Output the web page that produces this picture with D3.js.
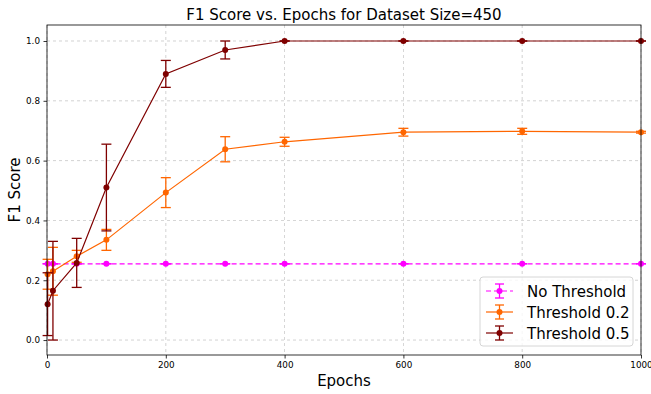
<!DOCTYPE html>
<html>
<head>
<meta charset="utf-8">
<script src="https://cdn.jsdelivr.net/npm/d3@7"></script>
<style>
  body { margin: 0; background: #fff; }
  text { font-family: "DejaVu Sans", sans-serif; }
</style>
</head>
<body>
<script>
// data
var epochs = [1, 10, 50, 100, 200, 300, 400, 600, 800, 1000];
var noThr = [0.255, 0.255, 0.255, 0.255, 0.255, 0.255, 0.255, 0.255, 0.255, 0.255];
var noThrErr = [0, 0, 0, 0, 0, 0, 0, 0, 0, 0];
var thr02 = [0.22, 0.23, 0.28, 0.335, 0.493, 0.638, 0.663, 0.695, 0.698, 0.695];
var thr02Err = [0.05, 0.08, 0.02, 0.035, 0.05, 0.042, 0.015, 0.013, 0.01, 0.003];
var thr05 = [0.12, 0.165, 0.258, 0.51, 0.89, 0.97, 1.0, 1.0, 1.0, 1.0];
var thr05Err = [0.105, 0.165, 0.082, 0.145, 0.045, 0.03, 0, 0, 0, 0];
var xTicks = [0, 200, 400, 600, 800, 1000];
var yTicks = [0, 0.2, 0.4, 0.6, 0.8, 1.0];

var series = [
  { name: 'No Threshold', vals: noThr, err: noThrErr, color: '#ff00ff', dash: '5,3' },
  { name: 'Threshold 0.2', vals: thr02, err: thr02Err, color: '#ff6600', dash: null },
  { name: 'Threshold 0.5', vals: thr05, err: thr05Err, color: '#7f0000', dash: null }
];

(function () {
  var W = 651, H = 394;
  var mL = 47, mR = 641, mT = 25, mB = 355;

  var svg = d3.select('body').append('svg').attr('width', W).attr('height', H);

  var x = d3.scaleLinear().domain([0, 1000]).range([mL, mR]);
  var y = d3.scaleLinear().domain([-0.05, 1.0535]).range([mB, mT]);

  // grid
  svg.append('g').selectAll('line').data(xTicks).enter().append('line')
    .attr('x1', d => x(d)).attr('x2', d => x(d)).attr('y1', mT).attr('y2', mB)
    .attr('stroke', '#b0b0b0').attr('stroke-width', 0.8).attr('stroke-dasharray', '3,3').attr('opacity', 0.7);
  svg.append('g').selectAll('line').data(yTicks).enter().append('line')
    .attr('y1', d => y(d)).attr('y2', d => y(d)).attr('x1', mL).attr('x2', mR)
    .attr('stroke', '#b0b0b0').attr('stroke-width', 0.8).attr('stroke-dasharray', '3,3').attr('opacity', 0.7);

  // axes
  var xAxis = svg.append('g').attr('transform', 'translate(0,' + mB + ')')
    .call(d3.axisBottom(x).tickValues(xTicks).tickFormat(d3.format('d')).tickSize(3.5).tickPadding(3.5));
  var yAxis = svg.append('g').attr('transform', 'translate(' + mL + ',0)')
    .call(d3.axisLeft(y).tickValues(yTicks).tickFormat(d3.format('.1f')).tickSize(3.5).tickPadding(3.5));
  [xAxis, yAxis].forEach(function (a) {
    a.select('.domain').remove();
    a.selectAll('text').style('font-family', '"DejaVu Sans", sans-serif').style('font-size', '8.8px').attr('fill', '#000');
    a.selectAll('line').attr('stroke', '#000').attr('stroke-width', 0.8);
  });

  // series
  var line = d3.line().x(d => x(d[0])).y(d => y(d[1]));
  series.forEach(function (s) {
    var g = svg.append('g');
    var pts = epochs.map((e, i) => [e, s.vals[i], s.err[i]]);
    g.selectAll('.eb').data(pts).enter().append('line')
      .attr('x1', d => x(d[0])).attr('x2', d => x(d[0]))
      .attr('y1', d => y(d[1] - d[2])).attr('y2', d => y(d[1] + d[2]))
      .attr('stroke', s.color).attr('stroke-width', 1.3);
    [-1, 1].forEach(function (sg) {
      g.selectAll('.cap' + sg).data(pts).enter().append('line')
        .attr('x1', d => x(d[0]) - 5).attr('x2', d => x(d[0]) + 5)
        .attr('y1', d => y(d[1] + sg * d[2])).attr('y2', d => y(d[1] + sg * d[2]))
        .attr('stroke', s.color).attr('stroke-width', 1.3);
    });
    g.append('path').datum(pts).attr('d', line).attr('fill', 'none')
      .attr('stroke', s.color).attr('stroke-width', 1.2)
      .attr('stroke-dasharray', s.dash);
    g.selectAll('circle').data(pts).enter().append('circle')
      .attr('cx', d => x(d[0])).attr('cy', d => y(d[1])).attr('r', 3).attr('fill', s.color);
  });

  // frame
  svg.append('rect').attr('x', mL).attr('y', mT).attr('width', mR - mL).attr('height', mB - mT)
    .attr('fill', 'none').attr('stroke', '#000').attr('stroke-width', 0.8);

  // title and labels
  svg.append('text').attr('x', (mL + mR) / 2).attr('y', 20).attr('text-anchor', 'middle')
    .style('font-size', '15px').text('F1 Score vs. Epochs for Dataset Size=450');
  svg.append('text').attr('x', (mL + mR) / 2).attr('y', 386).attr('text-anchor', 'middle')
    .style('font-size', '15px').text('Epochs');
  svg.append('text').attr('transform', 'translate(20,' + ((mT + mB) / 2) + ') rotate(-90)')
    .attr('text-anchor', 'middle').style('font-size', '15px').text('F1 Score');

  // legend
  var lg = svg.append('g').attr('transform', 'translate(480,277)');
  lg.append('rect').attr('width', 153).attr('height', 69).attr('rx', 3)
    .attr('fill', '#fff').attr('fill-opacity', 0.8).attr('stroke', '#ccc').attr('stroke-width', 0.8);
  series.forEach(function (s, i) {
    var cy = 14 + i * 21;
    lg.append('line').attr('x1', 6).attr('x2', 33).attr('y1', cy).attr('y2', cy)
      .attr('stroke', s.color).attr('stroke-width', 1.2).attr('stroke-dasharray', s.dash);
    lg.append('line').attr('x1', 19.5).attr('x2', 19.5).attr('y1', cy - 7).attr('y2', cy + 7)
      .attr('stroke', s.color).attr('stroke-width', 1.3);
    [-7, 7].forEach(function (o) {
      lg.append('line').attr('x1', 15).attr('x2', 24).attr('y1', cy + o).attr('y2', cy + o)
        .attr('stroke', s.color).attr('stroke-width', 1.3);
    });
    lg.append('circle').attr('cx', 19.5).attr('cy', cy).attr('r', 3).attr('fill', s.color);
    lg.append('text').attr('x', 47).attr('y', cy + 5.5).style('font-size', '15px').text(s.name);
  });
})();
</script>
</body>
</html>
